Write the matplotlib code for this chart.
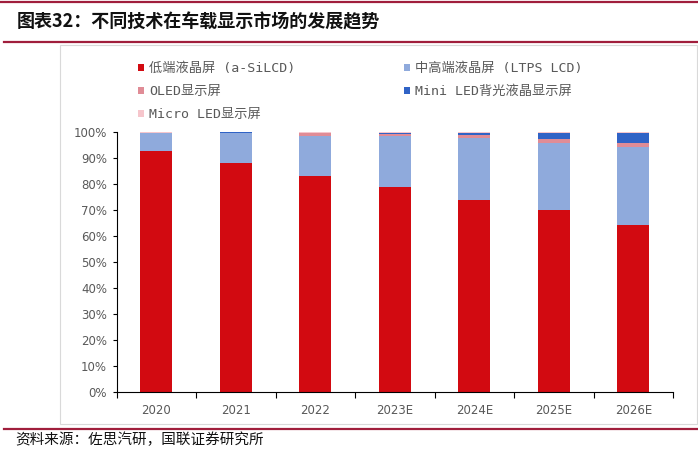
import matplotlib
matplotlib.use('Agg')
import matplotlib.pyplot as plt
from matplotlib.patches import Patch, Rectangle
from matplotlib.lines import Line2D
import numpy as np

years = ['2020', '2021', '2022', '2023E', '2024E', '2025E', '2026E']
series_names = ['低端液晶屏 (a-SiLCD)', '中高端液晶屏 (LTPS LCD)', 'OLED显示屏',
                'Mini LED背光液晶显示屏', 'Micro LED显示屏']
a_si_lcd = [92.7, 88.1, 83.1, 79.1, 73.8, 70.0, 64.2]
ltps_lcd = [7.0, 11.6, 15.6, 19.4, 23.9, 25.7, 30.1]
oled = [0.2, 0.2, 0.9, 1.0, 1.2, 1.6, 1.7]
mini_led = [0.0, 0.05, 0.2, 0.4, 0.9, 2.6, 3.9]
micro_led = [0.1, 0.05, 0.2, 0.1, 0.2, 0.1, 0.1]
yticks = np.arange(0, 101, 10)

colors = ['#D20A11', '#8FAADC', '#E08C96', '#3063C6', '#F6C6CC']
cjk = ['Noto Sans CJK SC', 'DejaVu Sans']
mono_cjk = ['DejaVu Sans Mono', 'Noto Sans CJK SC']
grey = '#595959'
dark_red = '#A01E3C'

W, H = 698, 450
fig = plt.figure(figsize=(W / 100, H / 100), dpi=100)

def fx(px):
    return px / W

def fy(py):
    return 1 - py / H

# frame lines and box
fig.add_artist(Line2D([0, 1], [fy(2), fy(2)], color=dark_red, lw=1.6))
fig.add_artist(Line2D([fx(4), 1], [fy(42), fy(42)], color=dark_red, lw=1.6))
fig.add_artist(Line2D([fx(4), 1], [fy(429), fy(429)], color=dark_red, lw=1.6))
fig.add_artist(Rectangle((fx(60), fy(424)), fx(697) - fx(60), fy(45) - fy(424),
                         fill=False, edgecolor='#D9D9D9', lw=0.8))

fig.text(fx(17), fy(22), '图表32：不同技术在车载显示市场的发展趋势', family=cjk,
         fontsize=13, fontweight='bold', color='#111111', va='center', ha='left')
fig.text(fx(15), fy(440), '资料来源：佐思汽研，国联证券研究所', family=cjk,
         fontsize=10.5, color='#111111', va='center', ha='left')

ax = fig.add_axes([fx(116.6), fy(392), fx(673) - fx(116.6), fy(132.3) - fy(392)])
x = np.arange(len(years))
data = [a_si_lcd, ltps_lcd, oled, mini_led, micro_led]
bottom = np.zeros(len(years))
for vals, c in zip(data, colors):
    ax.bar(x, vals, width=0.4, bottom=bottom, color=c, linewidth=0)
    bottom += np.array(vals)

ax.set_xlim(-0.5, len(years) - 0.5)
ax.set_ylim(0, 100)
ax.set_yticks(yticks)
ax.set_yticklabels(['%d%%' % v for v in yticks])
ax.set_xticks(x)
ax.set_xticklabels(years)
ax.set_xticks(np.arange(-0.5, len(years), 1), minor=True)
ax.tick_params(axis='x', which='major', length=0, pad=9, labelsize=8.5, labelcolor=grey)
ax.tick_params(axis='x', which='minor', length=4, direction='out', color='black', width=0.8)
ax.tick_params(axis='y', length=3, direction='out', width=0.8, labelsize=8.5, labelcolor=grey, pad=4)
for s in ['top', 'right']:
    ax.spines[s].set_visible(False)
for s in ['left', 'bottom']:
    ax.spines[s].set_linewidth(0.8)

handles = [Patch(facecolor=c, edgecolor='none') for c in colors]
leg_kw = dict(frameon=False, prop={'family': mono_cjk, 'size': 9.5}, handlelength=0.45,
              handleheight=0.45, handletextpad=0.4, labelspacing=0.76, borderpad=0,
              borderaxespad=0, labelcolor=grey, loc='upper left')
leg1 = fig.legend([handles[0], handles[2], handles[4]],
                  [series_names[0], series_names[2], series_names[4]],
                  bbox_to_anchor=(fx(138), fy(62)), **leg_kw)
leg2 = fig.legend([handles[1], handles[3]], [series_names[1], series_names[3]],
                  bbox_to_anchor=(fx(404), fy(62)), **leg_kw)

fig.savefig('out.png', dpi=100)
